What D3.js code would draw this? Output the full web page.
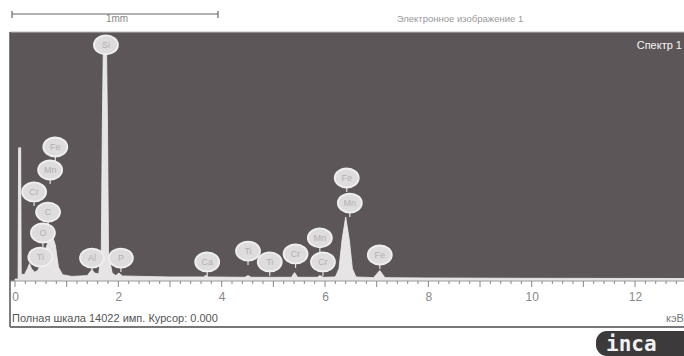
<!DOCTYPE html>
<html>
<head>
<meta charset="utf-8">
<script src="https://cdn.jsdelivr.net/npm/d3@7"></script>
<style>
  body { margin: 0; background: #fff; }
  svg { display: block; font-family: "Liberation Sans", Arial, sans-serif; }
</style>
</head>
<body>
<div id="chart"></div>
<script>
// spectrum: [energy keV, counts]
const spectrum = [
  [0, 0], [0.06, 0], [0.07, 7700], [0.11, 7700], [0.12, 300], [0.18, 250],
  [0.24, 600], [0.28, 900], [0.32, 600], [0.38, 400], [0.44, 500], [0.50, 900],
  [0.56, 1400], [0.62, 2000], [0.68, 2500], [0.72, 2550], [0.78, 2000], [0.84, 700],
  [0.92, 250], [1.1, 150], [1.4, 200], [1.46, 450], [1.49, 550], [1.54, 350],
  [1.62, 300], [1.67, 1500], [1.69, 9000], [1.71, 13800], [1.74, 14022], [1.77, 13800],
  [1.79, 9000], [1.81, 1500], [1.88, 350], [1.95, 200], [2.01, 350], [2.08, 180],
  [2.5, 150], [3.0, 120], [3.65, 120], [3.69, 220], [3.74, 120], [4.45, 100],
  [4.51, 200], [4.57, 100], [5.35, 100], [5.41, 380], [5.47, 100], [5.85, 100],
  [5.90, 200], [5.97, 100], [6.20, 120], [6.27, 600], [6.33, 2300], [6.40, 3640],
  [6.47, 2300], [6.53, 600], [6.60, 120], [6.94, 80], [7.06, 500], [7.16, 80],
  [8, 60], [10, 40], [13, 30]
];

// peak labels: element, energy of label, height (counts) of label centre
const peakNames   = ["Fe", "Mn", "Cr", "C", "O", "Ti", "Si", "Al", "P", "Ca", "Ti", "Ti", "Cr", "Mn", "Cr", "Fe", "Mn", "Fe"];
const peakEnergy  = [0.78, 0.68, 0.37, 0.64, 0.54, 0.49, 1.76, 1.49, 2.05, 3.72, 4.51, 4.93, 5.43, 5.90, 5.96, 6.42, 6.48, 7.06];
const peakHeights = [7750, 6400, 5110, 3930, 2700, 1290, 13740, 1230, 1230, 1000, 1640, 1000, 1470, 2410, 1000, 5930, 4460, 1410];

const tickValues = [0, 2, 4, 6, 8, 10, 12];
const fullScale = 14022;

const width = 684, height = 356;
const svg = d3.select("#chart").append("svg")
  .attr("width", width).attr("height", height);

const plot = { left: 10, right: 684, top: 32, bottom: 279 };

const x = d3.scaleLinear().domain([0, 13]).range([15, 15 + 51.67 * 13]);
const y = d3.scaleLinear().domain([0, 14500]).range([plot.bottom, plot.top]);

// header: scale bar and image caption
const bar = svg.append("g").attr("stroke", "#666").attr("stroke-width", 1.2);
bar.append("line").attr("x1", 12).attr("x2", 218).attr("y1", 14).attr("y2", 14);
bar.append("line").attr("x1", 12).attr("x2", 12).attr("y1", 11).attr("y2", 18);
bar.append("line").attr("x1", 218).attr("x2", 218).attr("y1", 11).attr("y2", 18);
svg.append("text").attr("x", 117).attr("y", 22).attr("text-anchor", "middle")
  .attr("font-size", 10).attr("fill", "#888").text("1mm");
svg.append("text").attr("x", 460).attr("y", 22).attr("text-anchor", "middle")
  .attr("font-size", 9.5).attr("fill", "#999").text("Электронное изображение 1");

// plot background
svg.append("rect")
  .attr("x", plot.left).attr("y", plot.top)
  .attr("width", plot.right - plot.left).attr("height", plot.bottom - plot.top + 2)
  .attr("fill", "#5d5659");
svg.append("line").attr("x1", plot.left).attr("x2", plot.right)
  .attr("y1", plot.top).attr("y2", plot.top).attr("stroke", "#bbb");

svg.append("defs").append("clipPath").attr("id", "clip")
  .append("rect").attr("x", plot.left).attr("y", plot.top)
  .attr("width", plot.right - plot.left).attr("height", plot.bottom - plot.top + 2);

// spectrum
const area = d3.area()
  .x(d => x(d[0]))
  .y0(y(0) + 2)
  .y1(d => y(d[1]));
svg.append("path")
  .datum(spectrum)
  .attr("clip-path", "url(#clip)")
  .attr("d", area)
  .attr("fill", "#e6e4e5")
  .attr("stroke", "#f0f0f0")
  .attr("stroke-width", 0.8);

// peak labels
const labels = svg.append("g").attr("clip-path", "url(#clip)")
  .selectAll("g")
  .data(peakNames.map((n, i) => ({ name: n, e: peakEnergy[i], c: peakHeights[i] })))
  .join("g")
  .attr("transform", d => `translate(${x(d.e)},${y(d.c)})`);
labels.append("line")
  .attr("x1", 0).attr("x2", 0).attr("y1", 8).attr("y2", 14)
  .attr("stroke", "#e2e2e2").attr("stroke-width", 1.2);
labels.append("ellipse")
  .attr("rx", 12).attr("ry", 9.5)
  .attr("fill", "#dedcdd")
  .attr("stroke", "#efefef").attr("stroke-width", 1.8);
labels.append("text")
  .attr("text-anchor", "middle").attr("dy", "0.35em")
  .attr("font-size", 9).attr("fill", "#b2b0b1")
  .text(d => d.name);

svg.append("text").attr("x", 682).attr("y", 49).attr("text-anchor", "end")
  .attr("font-size", 11).attr("fill", "#f4f4f4").text("Спектр 1");

// energy axis
const axisY = plot.bottom + 2;
svg.append("line").attr("x1", plot.left).attr("x2", plot.right)
  .attr("y1", axisY).attr("y2", axisY).attr("stroke", "#999");
const minor = d3.range(0, 13.01, 0.2);
svg.append("g").selectAll("line")
  .data(minor)
  .join("line")
  .attr("x1", d => x(d)).attr("x2", d => x(d))
  .attr("y1", axisY)
  .attr("y2", d => Math.abs(d - Math.round(d)) < 1e-6 ? axisY + 6 : axisY + 3)
  .attr("stroke", "#888");

const axis = d3.axisBottom(x).tickValues(tickValues).tickSize(0).tickPadding(0);
const axisG = svg.append("g").attr("transform", `translate(0,${axisY + 11})`).call(axis);
axisG.select(".domain").remove();
axisG.selectAll("text").attr("font-size", 12).attr("fill", "#888")
  .attr("font-family", "Liberation Sans, Arial, sans-serif");

// footer inside frame
svg.append("text").attr("x", 12).attr("y", 322)
  .attr("font-size", 11).attr("fill", "#555")
  .text(`Полная шкала ${fullScale} имп. Курсор: 0.000`);
svg.append("text").attr("x", 666).attr("y", 322)
  .attr("font-size", 11).attr("fill", "#777").text("кэВ");

svg.append("line").attr("x1", 10).attr("x2", 10).attr("y1", plot.top).attr("y2", 327)
  .attr("stroke", "#555").attr("stroke-width", 1.5);
svg.append("line").attr("x1", 10).attr("x2", 684).attr("y1", 327).attr("y2", 327)
  .attr("stroke", "#777").attr("stroke-width", 2);

// inca logo
svg.append("rect").attr("x", 596).attr("y", 331).attr("width", 110).attr("height", 25)
  .attr("rx", 11).attr("fill", "#3c3a3b");
svg.append("text").attr("x", 606).attr("y", 351)
  .attr("font-size", 21).attr("font-weight", "bold")
  .attr("font-family", "DejaVu Sans Mono, monospace")
  .attr("fill", "#f2f2f2").text("inca");
</script>
</body>
</html>
